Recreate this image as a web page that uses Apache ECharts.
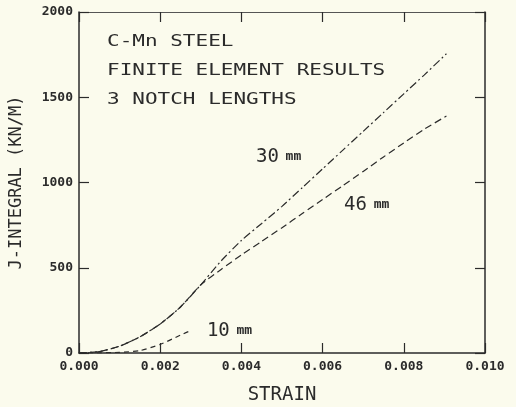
<!DOCTYPE html>
<html>
<head>
<meta charset="utf-8">
<script src="https://cdn.jsdelivr.net/npm/echarts@6/dist/echarts.min.js"></script>
<style>
  html, body { margin: 0; padding: 0; background: #fbfbed; }
  #chart { width: 516px; height: 407px; }
</style>
</head>
<body>
<div id="chart"></div>
<script>
// strain values
var strain30 = [0, 0.0005, 0.001, 0.0015, 0.002, 0.0025, 0.003, 0.0035, 0.004, 0.0045, 0.005, 0.0055, 0.006, 0.0065, 0.007, 0.0075, 0.008, 0.0085, 0.00905];
var j30 = [0, 8, 40, 95, 170, 270, 400, 540, 660, 760, 860, 970, 1080, 1190, 1300, 1410, 1520, 1630, 1755];

var strain46 = [0, 0.0005, 0.001, 0.0015, 0.002, 0.0025, 0.003, 0.0035, 0.004, 0.0045, 0.005, 0.0055, 0.006, 0.0065, 0.007, 0.0075, 0.008, 0.0085, 0.00905];
var j46 = [0, 8, 40, 95, 170, 270, 400, 490, 575, 655, 735, 818, 900, 982, 1065, 1150, 1232, 1312, 1390];

var strain10 = [0, 0.0005, 0.001, 0.0015, 0.002, 0.0025, 0.00278];
var j10 = [0, 1, 4, 14, 50, 105, 135];

// text placed on the chart, in data coordinates
var noteText = ['C-Mn STEEL', 'FINITE ELEMENT RESULTS', '3 NOTCH LENGTHS'];
var notePos = [[0.00069, 1824], [0.00069, 1654], [0.00069, 1484]];
var curveLabels = ['30', '46', '10'];
var curveLabelPos = [[0.00436, 1150], [0.00653, 868], [0.00315, 129]];

var INK = '#2b2b2b';
var MONO = 'DejaVu Sans Mono';

function pairs(xs, ys) {
    return xs.map(function (x, i) {
        return [x, ys[i]];
    });
}

var chart = echarts.init(document.getElementById('chart'));

var tickStyle = {show: true, inside: true, length: 10, lineStyle: {color: INK, width: 1.2}};

var option = {
    backgroundColor: '#fbfbed',
    animation: false,
    grid: {left: 79, right: 31, top: 12, bottom: 54, containLabel: false, outerBoundsMode: 'none'},
    xAxis: [{
        type: 'value',
        min: 0,
        max: 0.01,
        interval: 0.002,
        name: 'STRAIN',
        nameLocation: 'middle',
        nameGap: 33,
        nameTextStyle: {color: INK, fontFamily: MONO, fontSize: 19},
        axisLine: {show: true, onZero: false, lineStyle: {color: INK, width: 1.5}},
        axisTick: tickStyle,
        splitLine: {show: false},
        axisLabel: {
            color: INK, fontFamily: MONO, fontSize: 13, fontWeight: 'bold', margin: 7,
            formatter: function (v) { return v.toFixed(3); }
        }
    }, {
        type: 'value',
        position: 'top',
        min: 0,
        max: 0.01,
        interval: 0.002,
        axisLine: {show: true, onZero: false, lineStyle: {color: '#555', width: 1.2}},
        axisTick: tickStyle,
        axisLabel: {show: false},
        splitLine: {show: false}
    }],
    yAxis: [{
        type: 'value',
        min: 0,
        max: 2000,
        interval: 500,
        name: 'J-INTEGRAL (KN/M)',
        nameLocation: 'middle',
        nameGap: 54,
        nameRotate: 90,
        nameTextStyle: {color: INK, fontFamily: MONO, fontSize: 17},
        axisLine: {show: true, onZero: false, lineStyle: {color: INK, width: 1.5}},
        axisTick: tickStyle,
        splitLine: {show: false},
        axisLabel: {
            color: INK, fontFamily: MONO, fontSize: 13, fontWeight: 'bold', margin: 6,
            formatter: function (v) { return String(v); }
        }
    }, {
        type: 'value',
        position: 'right',
        min: 0,
        max: 2000,
        interval: 500,
        axisLine: {show: true, onZero: false, lineStyle: {color: INK, width: 1.5}},
        axisTick: tickStyle,
        axisLabel: {show: false},
        splitLine: {show: false}
    }],
    series: [{
        name: '30 mm',
        type: 'line',
        smooth: 0.2,
        showSymbol: false,
        data: pairs(strain30, j30),
        lineStyle: {color: INK, width: 1.2, type: [8, 3, 2, 3]}
    }, {
        name: '46 mm',
        type: 'line',
        smooth: 0.2,
        showSymbol: false,
        data: pairs(strain46, j46),
        lineStyle: {color: INK, width: 1.2, type: [7, 4]}
    }, {
        name: '10 mm',
        type: 'line',
        smooth: 0.2,
        showSymbol: false,
        data: pairs(strain10, j10),
        lineStyle: {color: INK, width: 1.2, type: [5, 4]}
    }]
};

chart.setOption(option);

// 文本标注: 由数据坐标换算成像素位置
var graphics = [];
noteText.forEach(function (t, i) {
    var p = chart.convertToPixel({gridIndex: 0}, notePos[i]);
    graphics.push({
        type: 'text',
        x: p[0],
        y: p[1],
        scaleY: 0.74,
        style: {
            text: t, fill: INK, font: '21px "' + MONO + '"',
            verticalAlign: 'middle'
        }
    });
});
curveLabels.forEach(function (t, i) {
    var p = chart.convertToPixel({gridIndex: 0}, curveLabelPos[i]);
    graphics.push({
        type: 'text',
        x: p[0],
        y: p[1],
        style: {
            text: '{a|' + t + '}  {b|mm}',
            verticalAlign: 'middle',
            rich: {
                a: {fontFamily: MONO, fontSize: 19, fill: INK, color: INK},
                b: {fontFamily: MONO, fontSize: 13, fontWeight: 'bold', fill: INK, color: INK}
            }
        }
    });
});
chart.setOption({graphic: graphics});
</script>
</body>
</html>
